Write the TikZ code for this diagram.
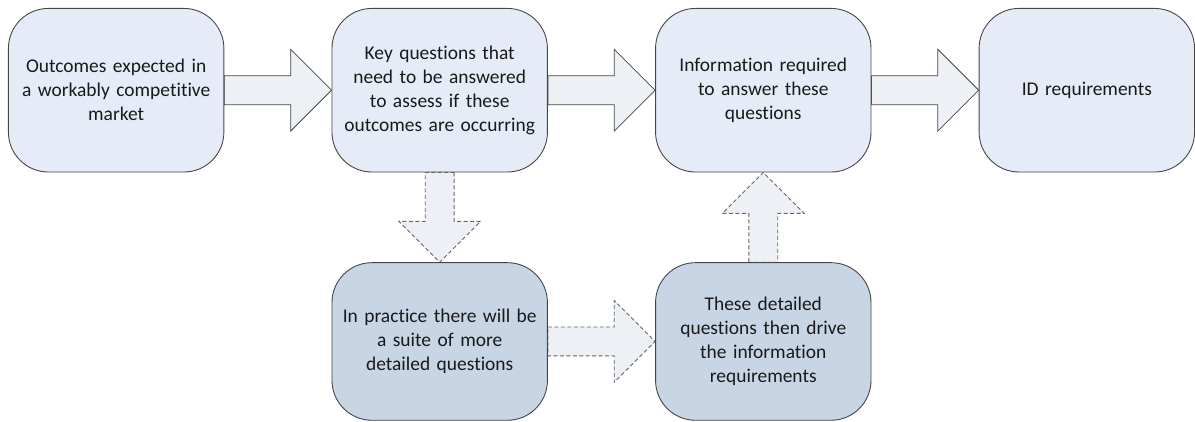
\documentclass[tikz,border=0pt]{standalone}
\usepackage{fontspec}
\setmainfont[RawFeature=-liga]{Carlito}
\usepackage{tikz}
\usetikzlibrary{
  positioning,
  calc,
  backgrounds
}
\definecolor{topfill}{RGB}{230,236,247}
\definecolor{lowfill}{RGB}{199,213,229}
\definecolor{arrowfill}{RGB}{237,240,245}
\definecolor{boxline}{RGB}{70,70,70}
\tikzset{
  stagebox/.style={draw=boxline, line width=0.9pt, rounded corners=40pt,
    minimum width=216pt, minimum height=164pt, inner sep=0pt,
    align=center, text width=205pt, text=black!90,
    font=\fontsize{19.5pt}{24pt}\selectfont},
  topbox/.style={stagebox, fill=topfill},
  lowbox/.style={stagebox, fill=lowfill, minimum height=158pt},
  bigarr/.style={draw=boxline, line width=0.8pt, fill=arrowfill},
  dasharr/.style={draw=gray!80!black, line width=0.9pt, fill=arrowfill,
    dash pattern=on 4pt off 2.5pt},
}
% block arrow from #2 to #3
\newcommand{\blockarrow}[3][bigarr]{%
  \path[#1] let \p1=(#2), \p2=(#3),
    \n1={veclen(\x2-\x1,\y2-\y1)}, \n2={atan2(\y2-\y1,\x2-\x1)} in
    [shift={(\p1)}, rotate=\n2]
    (0,14.5pt) -- (\n1-41pt,14.5pt) -- (\n1-41pt,41pt) -- (\n1,0)
    -- (\n1-41pt,-41pt) -- (\n1-41pt,-14.5pt) -- (0,-14.5pt) -- cycle;
}

\begin{document}
\begin{tikzpicture}[node distance=90pt and 107.5pt]
  % Top row
  \node[topbox] (outcomes) {Outcomes expected in\\a workably competitive\\market};
  \node[topbox, right=of outcomes] (keyq) {Key questions that\\need to be answered\\to assess if these\\outcomes are occurring};
  \node[topbox, right=of keyq] (info) {Information required\\to answer these\\questions};
  \node[topbox, right=of info] (idreq) {ID requirements};

  % Bottom row
  \node[lowbox, below=of keyq] (suite) {In practice there will be\\a suite of more\\detailed questions};
  \node[lowbox, below=of info] (drive) {These detailed\\questions then drive\\the information\\requirements};

  % Arrows
  \begin{scope}[on background layer]
    \blockarrow{outcomes.east}{keyq.west}
    \blockarrow{keyq.east}{info.west}
    \blockarrow{info.east}{idreq.west}
    \blockarrow[dasharr]{keyq.south}{suite.north}
    \blockarrow[dasharr]{suite.east}{drive.west}
    \blockarrow[dasharr]{drive.north}{info.south}
  \end{scope}

  \useasboundingbox ($(outcomes.north west)+(-8pt,8pt)$) rectangle ++(1195pt,-423pt);
\end{tikzpicture}
\end{document}
